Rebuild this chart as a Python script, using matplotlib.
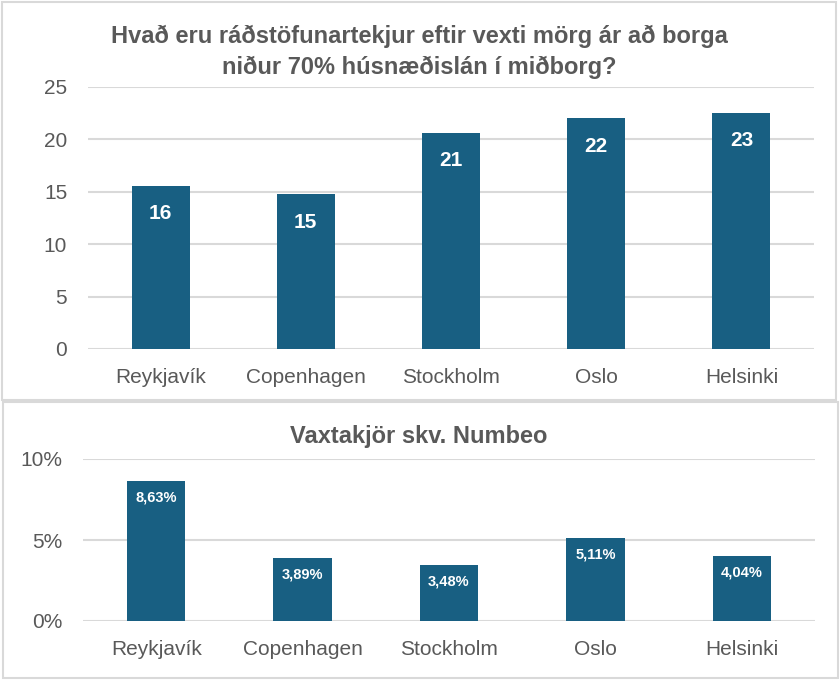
import matplotlib.pyplot as plt
from matplotlib.patches import Rectangle
from matplotlib.ticker import FuncFormatter

# Data
cities = ["Reykjavík", "Copenhagen", "Stockholm", "Oslo", "Helsinki"]
years = [15.55, 14.75, 20.6, 22.0, 22.55]
rates = [8.63, 3.89, 3.48, 5.11, 4.04]

bar_color = "#185F82"
text_gray = "#595959"
grid_gray = "#D9D9D9"
plt.rcParams['font.family'] = ['Liberation Sans', 'DejaVu Sans']

fig = plt.figure(figsize=(8.4, 6.8), dpi=100)

# panel frames
fig.patches.append(Rectangle((2 / 840, 280 / 680), 834 / 840, 398 / 680, transform=fig.transFigure,
                             fill=False, edgecolor=grid_gray, linewidth=1.5))
fig.patches.append(Rectangle((3 / 840, 2 / 680), 835 / 840, 276 / 680, transform=fig.transFigure,
                             fill=False, edgecolor=grid_gray, linewidth=1.5))


def style_axes(ax):
    for s in ax.spines.values():
        s.set_visible(False)
    ax.grid(True, axis='y', color=grid_gray, linewidth=1.5)
    ax.set_axisbelow(True)
    ax.tick_params(length=0, colors=text_gray)
    ax.set_xlim(-0.5, len(cities) - 0.5)
    ax.set_xticks(range(len(cities)))
    ax.set_xticklabels(cities, fontsize=15, color=text_gray)


# Top chart
ax1 = fig.add_axes([88 / 840, 331 / 680, 726 / 840, 262 / 680])
style_axes(ax1)
bars1 = ax1.bar(range(len(cities)), years, width=0.4, color=bar_color, zorder=3)
ax1.set_ylim(0, 25)
ax1.set_yticks(range(0, 26, 5))
ax1.tick_params(axis='y', labelsize=15, pad=15)
ax1.tick_params(axis='x', pad=14)
for b, v in zip(bars1, years):
    ax1.annotate(f"{int(v + 0.5):d}", (b.get_x() + b.get_width() / 2, v), xytext=(0, -20),
                 textcoords='offset points', ha='center', va='center',
                 color='white', fontsize=15, fontweight='bold', zorder=4)

fig.text(419 / 840, 628 / 680,
         "Hvað eru ráðstöfunartekjur eftir vexti mörg ár að borga\nniður 70% húsnæðislán í miðborg?",
         ha='center', va='center', fontsize=17, fontweight='bold', color=text_gray, linespacing=1.45)

# Bottom chart
ax2 = fig.add_axes([83 / 840, 59 / 680, 732 / 840, 162 / 680])
style_axes(ax2)
bars2 = ax2.bar(range(len(cities)), rates, width=0.4, color=bar_color, zorder=3)
ax2.set_ylim(0, 10)
ax2.set_yticks([0, 5, 10])
ax2.yaxis.set_major_formatter(FuncFormatter(lambda v, p: f"{v:.0f}%"))
ax2.tick_params(axis='y', labelsize=15, pad=15)
ax2.tick_params(axis='x', pad=14)
for b, v in zip(bars2, rates):
    ax2.annotate(f"{v:.2f}%".replace('.', ','), (b.get_x() + b.get_width() / 2, v), xytext=(0, -12),
                 textcoords='offset points', ha='center', va='center',
                 color='white', fontsize=10.5, fontweight='bold', zorder=4)

fig.text(419 / 840, 243 / 680, "Vaxtakjör skv. Numbeo", ha='center', va='center',
         fontsize=17, fontweight='bold', color=text_gray)

plt.savefig("out.png", dpi=100)
